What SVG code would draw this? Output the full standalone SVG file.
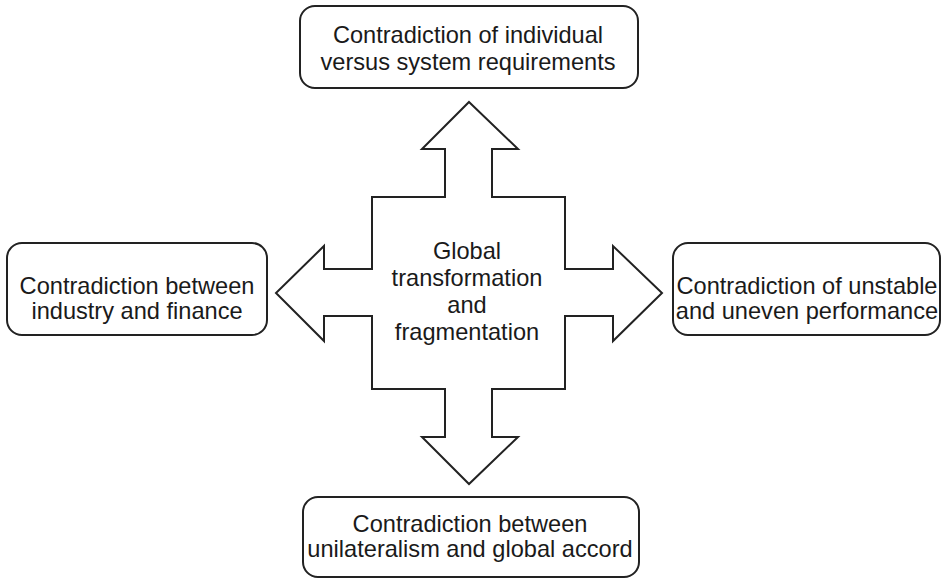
<svg xmlns="http://www.w3.org/2000/svg" width="944" height="579" viewBox="0 0 944 579">
<style>
.box{fill:#fff;stroke:#222;stroke-width:2}
.cross{fill:#fff;stroke:#222;stroke-width:2;stroke-linejoin:miter}
text{font-family:"Liberation Sans",Arial,sans-serif;font-size:23.6px;fill:#1a1a1a;text-anchor:middle}
</style>
<rect width="944" height="579" fill="#fff"/>
<g id="hub">
<polygon class="cross" points="469,102 518,149 492,149 492,197 565,197 565,269 613,269 613,246 662,293 613,341 613,316 565,316 565,389 492,389 492,437 518,437 469,484 422,437 445,437 445,389 372,389 372,316 324,316 324,341 276,293 324,246 324,269 372,269 372,197 445,197 445,149 422,149"/>
<text x="467" y="259">Global</text>
<text x="467" y="286">transformation</text>
<text x="467" y="313">and</text>
<text x="467" y="340">fragmentation</text>
</g>
<g id="connectors"></g>
<g id="top">
<rect class="box" x="300" y="6" width="338" height="82" rx="15"/>
<text x="468" y="43">Contradiction of individual</text>
<text x="468" y="70">versus system requirements</text>
</g>
<g id="left">
<rect class="box" x="7" y="243" width="260" height="92" rx="15"/>
<text x="137" y="294">Contradiction between</text>
<text x="137" y="319">industry and finance</text>
</g>
<g id="right">
<rect class="box" x="673" y="243" width="267" height="92" rx="15"/>
<text x="807" y="294">Contradiction of unstable</text>
<text x="807" y="319">and uneven performance</text>
</g>
<g id="bottom">
<rect class="box" x="303" y="497" width="336" height="80" rx="15"/>
<text x="470" y="532">Contradiction between</text>
<text x="470" y="557">unilateralism and global accord</text>
</g>
</svg>
